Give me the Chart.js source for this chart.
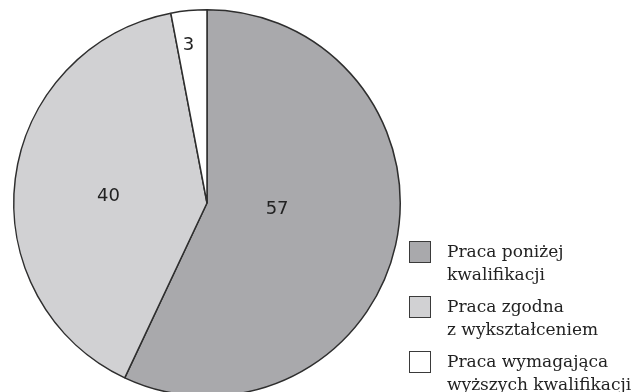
<!DOCTYPE html>
<html>
<head>
<meta charset="utf-8">
<script src="https://cdn.jsdelivr.net/npm/chart.js@4/dist/chart.umd.min.js"></script>
<style>
  html, body { margin: 0; padding: 0; background: #fff; overflow: hidden; }
  #wrap { position: absolute; left: 0; top: 0; width: 641px; height: 404px; }
</style>
</head>
<body>
<div id="wrap"><canvas id="myChart" width="641" height="404"></canvas></div>
<script>
// dane
var categories = [
    ['Praca poniżej', 'kwalifikacji'],
    ['Praca zgodna', 'z wykształceniem'],
    ['Praca wymagająca', 'wyższych kwalifikacji']
];
var values = [57, 40, 3];
var sliceColors = ['#a9a9ac', '#d1d1d3', '#ffffff'];

// etykiety wartości wewnątrz wycinków
const valueLabels = {
    id: 'valueLabels',
    afterDatasetsDraw(chart, args, opts) {
        const ctx = chart.ctx;
        const meta = chart.getDatasetMeta(0);
        ctx.save();
        ctx.font = '18px "DejaVu Sans"';
        ctx.fillStyle = '#222';
        ctx.textAlign = 'center';
        ctx.textBaseline = 'middle';
        meta.data.forEach((arc, i) => {
            const p = arc.getProps(['x', 'y', 'startAngle', 'endAngle', 'outerRadius'], true);
            const a = p.startAngle + (p.endAngle - p.startAngle) * opts.angle[i];
            const r = p.outerRadius * opts.radius[i];
            ctx.fillText(String(values[i]), p.x + Math.cos(a) * r, p.y + Math.sin(a) * r);
        });
        ctx.restore();
    }
};

// legenda w prawym dolnym rogu
const sideLegend = {
    id: 'sideLegend',
    afterDraw(chart, args, opts) {
        const ctx = chart.ctx;
        ctx.save();
        ctx.font = '17px "DejaVu Serif"';
        ctx.textBaseline = 'alphabetic';
        ctx.textAlign = 'left';
        chart.data.labels.forEach((lab, i) => {
            const top = opts.top + i * opts.step;
            ctx.fillStyle = chart.data.datasets[0].backgroundColor[i];
            ctx.fillRect(opts.x, top, opts.box, opts.box);
            ctx.strokeStyle = '#3a3a3a';
            ctx.lineWidth = 1;
            ctx.strokeRect(opts.x + 0.5, top + 0.5, opts.box, opts.box);
            ctx.fillStyle = '#222';
            lab.forEach((line, j) => {
                ctx.fillText(line, opts.textX, top + 16 + j * 23);
            });
        });
        ctx.restore();
    }
};

var ctx = document.getElementById('myChart').getContext('2d');
var chart = new Chart(ctx, {
    type: 'pie',
    data: {
        labels: categories,
        datasets: [{
            data: values,
            backgroundColor: sliceColors,
            borderColor: '#2e2e2e',
            borderWidth: 1.5
        }]
    },
    options: {
        responsive: false,
        animation: false,
        layout: { padding: { left: 13, top: 9, right: 240, bottom: 7 } },
        plugins: {
            legend: { display: false },
            tooltip: { enabled: false },
            valueLabels: { radius: [0.364, 0.511, 0.819], angle: [0.462, 0.476, 0.38] },
            sideLegend: { x: 409, top: 241, step: 55, box: 21, textX: 447 }
        }
    },
    plugins: [valueLabels, sideLegend]
});
</script>
</body>
</html>
